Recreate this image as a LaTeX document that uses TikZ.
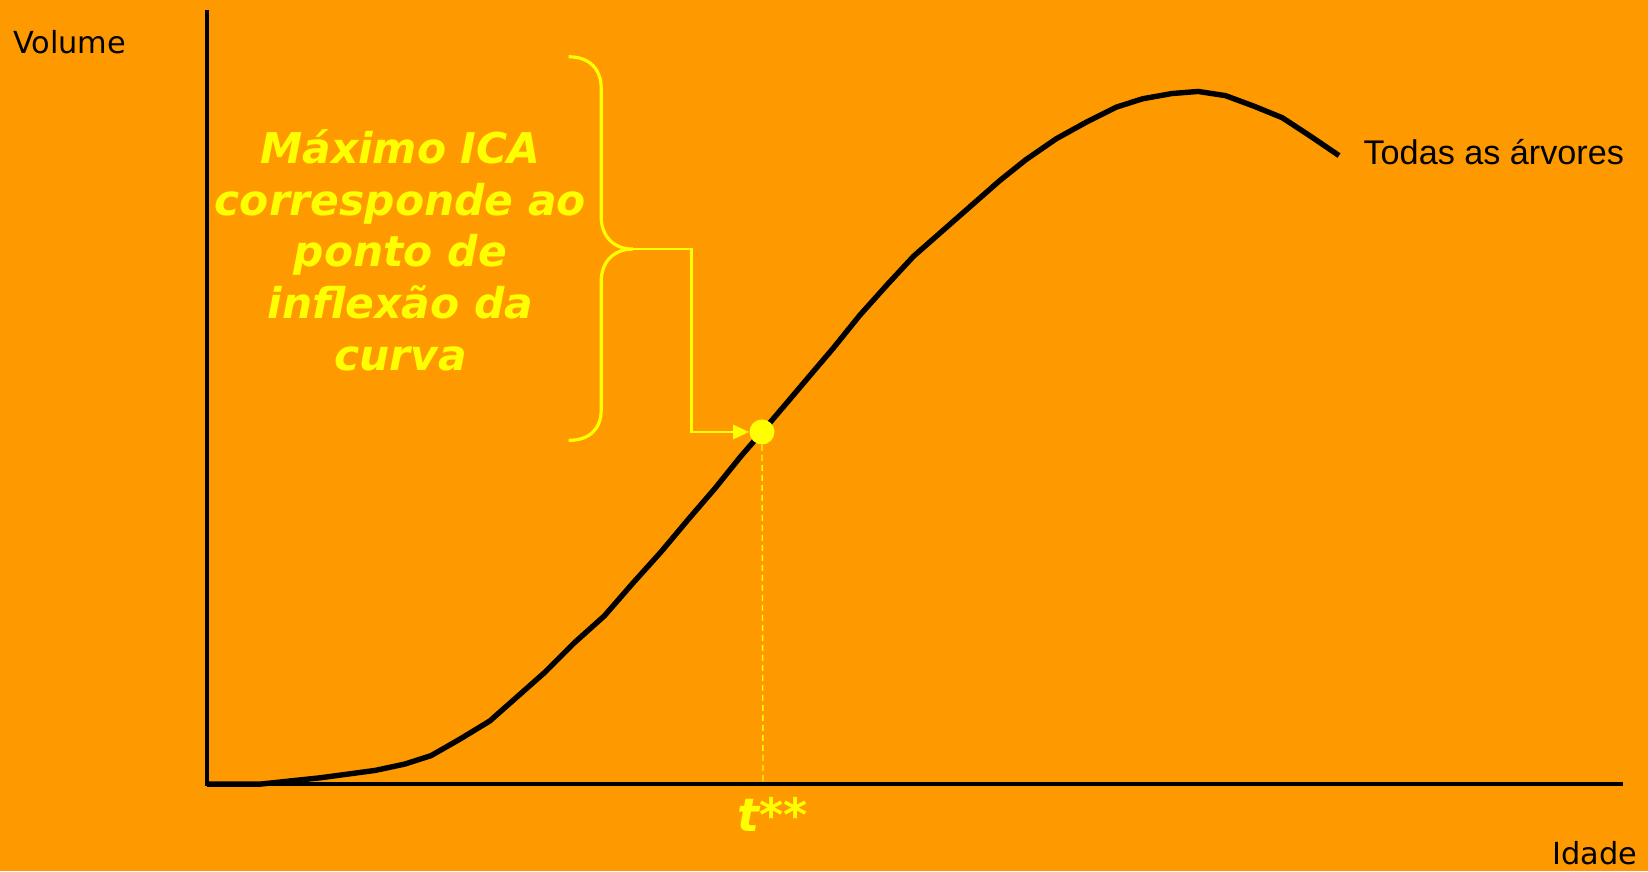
\documentclass[tikz,border=0pt]{standalone}
\usepackage{fontspec}
\setmainfont{DejaVu Sans}
\newfontfamily\arialfont{Liberation Sans}
\usetikzlibrary{arrows.meta}
\definecolor{bgorange}{HTML}{FF9900}
\definecolor{hiyellow}{HTML}{FFFF00}
\tikzset{
  axisline/.style={line width=1.6pt, black},
  curveline/.style={line width=2.7pt, black, line join=round},
  bracestyle/.style={line width=1.6pt, hiyellow},
  pointer/.style={line width=1.4pt, hiyellow, -{Triangle[length=8pt,width=7pt]}},
  guide/.style={line width=0.7pt, hiyellow, dash pattern=on 3pt off 2pt},
  axislabel/.style={inner sep=0pt, font=\fontsize{15.2}{18}\selectfont, text=black},
  notetext/.style={inner sep=0pt, align=center, text=hiyellow, font=\fontsize{21.2}{25.9}\bfseries\itshape\selectfont},
}
\begin{document}
\begin{tikzpicture}[x=0.5255pt, y=-0.5255pt]
\fill[bgorange] (0,0) rectangle (1568,829);
\useasboundingbox (0,0) rectangle (1568,829);
% axes
\coordinate (origin) at (197,746);
\coordinate (ytop) at (197,9.5);
\coordinate (xend) at (1544,746);
\draw[axisline] (ytop) -- (origin) -- (xend);
% labels
\node[axislabel, anchor=west] (vol) at (12,40) {Volume};
\node[axislabel, anchor=east] (idade) at (1558,812) {Idade};
\node[inner sep=0pt, anchor=west, font=\arialfont\fontsize{17.1}{20}\selectfont] (todas) at (1297,145) {Todas as árvores};
% curve
\draw[curveline] plot coordinates {(197,746) (248,746) (305,740) (357,733) (385,727) (410,719) (438,703) (466,686) (492,663) (518,640) (546,612) (575,586) (602,555) (629,525) (655,494) (680,465) (705,434) (725,411) (748,384) (770,358) (793,331) (818,300) (844,271) (869,244) (910,208) (951,172) (976,152) (1005,132) (1034,116) (1062,102) (1087,94) (1115,89) (1140,87) (1166,91) (1193,101) (1220,112) (1246,129) (1274,148)};
% inflection point
\node[circle, fill=hiyellow, inner sep=0pt, minimum size=12.5pt] (dot) at (725,411) {};
\coordinate (tfoot) at (726,746);
\draw[guide] (dot.south) -- (tfoot);
\node[inner sep=0pt, text=hiyellow, font=\fontsize{23}{27}\bfseries\itshape\selectfont] (tlabel) at (735,775) {t**};
% brace
\coordinate (tip) at (602,237);
\draw[bracestyle] (541,54) .. controls (561,54) and (572,66) .. (572,84) -- (572,206)
  .. controls (572,225) and (584,237) .. (tip)
  .. controls (584,237) and (572,249) .. (572,268) -- (572,390)
  .. controls (572,408) and (561,419) .. (541,419);
\coordinate (bend) at (658,237);
\draw[pointer] (tip) -- (bend) |- (dot.west);
% note
\node[notetext] (note) at (381,238) {Máximo ICA\\corresponde ao\\ponto de\\inflexão da\\curva};
\end{tikzpicture}
\end{document}
